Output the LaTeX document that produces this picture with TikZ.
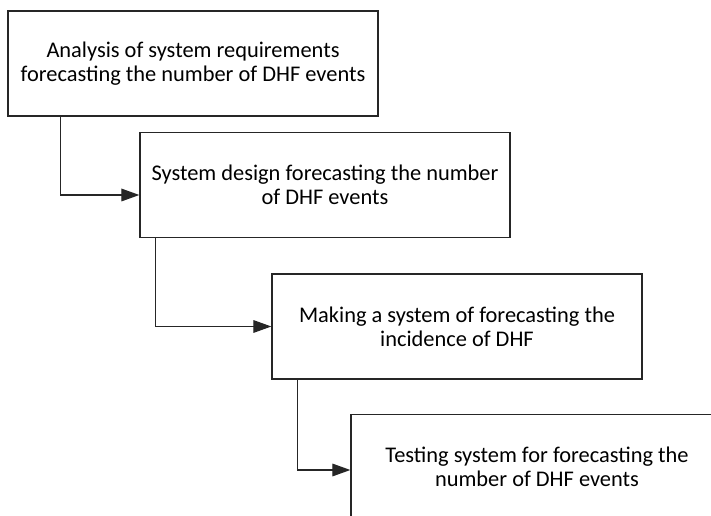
\documentclass[tikz,border=0pt]{standalone}
\usepackage{fontspec}
\setmainfont{Carlito}
\usetikzlibrary{arrows.meta}
\begin{document}
\begin{tikzpicture}[x=0.75pt,y=-0.75pt,
    stage/.style={draw=black!85,line width=1pt,rectangle,align=center,
        minimum width=277.5pt,minimum height=78.75pt,inner sep=0pt,
        font=\fontsize{16.8}{18}\selectfont},
    flow/.style={draw=black!85,line width=0.9pt,-{Triangle[length=13.5pt,width=9.5pt]}}]
    \useasboundingbox (0,0) rectangle (711,516);
    % stages of the waterfall
    \node[stage] (analysis) at (193,63.5) {Analysis of system requirements\\forecasting the number of DHF events};
    \node[stage] (design) at (325,185) {System design forecasting the number\\of DHF events};
    \node[stage] (making) at (457,326.5) {Making a system of forecasting the\\incidence of DHF};
    \node[stage,minimum width=279pt] (testing) at (537,467) {Testing system for forecasting the\\number of DHF events};
    % connectors
    \coordinate (k1) at ([xshift=39.75pt]analysis.south west);
    \coordinate (k2) at ([xshift=12pt]design.south west);
    \coordinate (k3) at ([xshift=19.5pt]making.south west);
    \draw[flow] (k1) |- ([yshift=-7.5pt]design.west);
    \draw[flow] (k2) |- (making.west);
    \draw[flow] (k3) |- ([yshift=-2.25pt]testing.west);
\end{tikzpicture}
\end{document}
